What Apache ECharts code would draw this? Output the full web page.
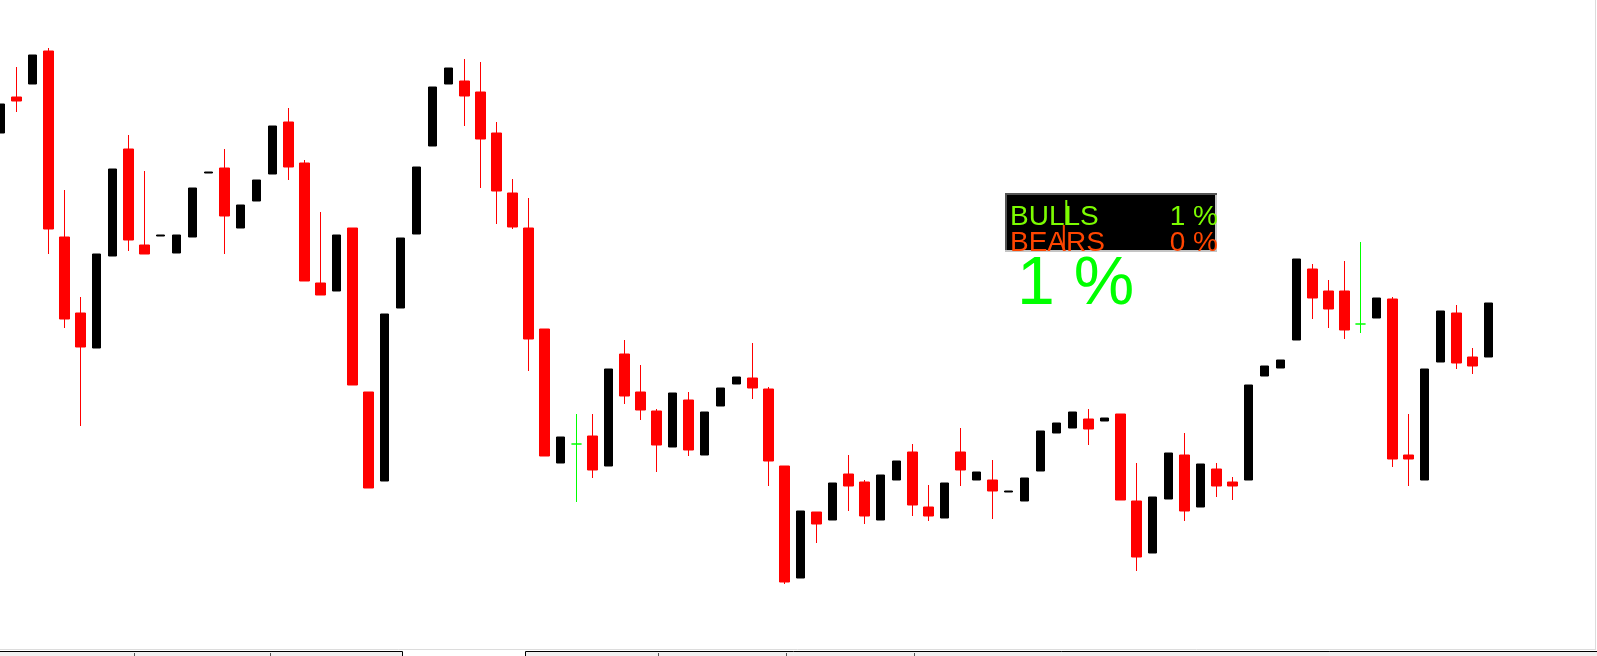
<!DOCTYPE html>
<html>
<head>
<meta charset="utf-8">
<script src="https://cdn.jsdelivr.net/npm/echarts@6/dist/echarts.min.js"></script>
<style>
html,body{margin:0;padding:0;background:#fff;}
#chart{width:1597px;height:656px;}
</style>
</head>
<body>
<div id="chart"></div>
<script>
// ---- data (prices) ----
const opens = [
1.1316,1.1352,1.1365,1.1398,1.1212,1.1136,1.1101,1.1193,1.1300,1.1204,
1.1213,1.1196,1.1212,1.1276,1.1281,1.1221,1.1248,1.1275,1.1327,1.1286,
1.1166,1.1158,1.1221,1.1057,1.0968,1.1141,1.1215,1.1303,1.1365,1.1368,
1.1357,1.1316,1.1256,1.1221,1.1120,1.0986,1.1005,1.1013,1.0983,1.1095,
1.1057,1.1038,1.1002,1.1049,1.0994,1.1043,1.1065,1.1071,1.1060,1.0983,
1.0871,1.0937,1.0929,1.0975,1.0967,1.0929,1.0969,1.0997,1.0942,1.0931,
1.0997,1.0969,1.0969,1.0957,1.0948,1.0978,1.1016,1.1021,1.1030,1.1028,
1.1035,1.0948,1.0896,1.0950,1.0994,1.0942,1.0980,1.0967,1.0969,1.1073,
1.1081,1.1109,1.1180,1.1158,1.1158,1.1125,1.1131,1.1150,1.0994,1.0969,
1.1087,1.1136,1.1092,1.1092
];
const closes = [
1.1345,1.1348,1.1394,1.1220,1.1130,1.1102,1.1195,1.1280,1.1209,1.1195,
1.1214,1.1214,1.1261,1.1277,1.1233,1.1244,1.1269,1.1323,1.1282,1.1168,
1.1154,1.1214,1.1064,1.0961,1.1135,1.1211,1.1282,1.1362,1.1381,1.1353,
1.1310,1.1258,1.1222,1.1110,1.0993,1.1012,1.1005,1.0979,1.1080,1.1053,
1.1039,1.1004,1.1056,1.0999,1.1037,1.1061,1.1072,1.1061,1.0988,1.0867,
1.0938,1.0925,1.0966,1.0963,1.0933,1.0974,1.0988,1.0944,1.0933,1.0966,
1.0979,1.0977,1.0958,1.0958,1.0971,1.1018,1.1026,1.1037,1.1020,1.1031,
1.0949,1.0892,1.0952,1.0996,1.0938,1.0985,1.0963,1.0963,1.1064,1.1083,
1.1089,1.1190,1.1151,1.1140,1.1119,1.1125,1.1151,1.0990,1.0990,1.1080,
1.1138,1.1086,1.1083,1.1146
];
const lows = [
1.1316,1.1337,1.1365,1.1195,1.1121,1.1023,1.1101,1.1193,1.1198,1.1195,
1.1213,1.1196,1.1212,1.1276,1.1195,1.1221,1.1248,1.1275,1.1269,1.1168,
1.1154,1.1158,1.1064,1.0961,1.0968,1.1141,1.1215,1.1303,1.1365,1.1323,
1.1261,1.1225,1.1220,1.1078,1.0993,1.0986,1.0947,1.0971,1.0983,1.1045,
1.1029,1.0977,1.1002,1.0993,1.0994,1.1043,1.1065,1.1050,1.0963,1.0865,
1.0871,1.0906,1.0929,1.0938,1.0925,1.0929,1.0969,1.0933,1.0928,1.0931,
1.0963,1.0969,1.0930,1.0957,1.0948,1.0978,1.1016,1.1021,1.1004,1.1028,
1.0949,1.0878,1.0896,1.0950,1.0928,1.0942,1.0952,1.0949,1.0969,1.1073,
1.1081,1.1109,1.1130,1.1121,1.1110,1.1116,1.1131,1.0982,1.0963,1.0969,
1.1087,1.1080,1.1075,1.1092
];
const highs = [
1.1345,1.1382,1.1394,1.1401,1.1259,1.1152,1.1195,1.1280,1.1314,1.1278,
1.1214,1.1214,1.1261,1.1277,1.1300,1.1244,1.1269,1.1323,1.1341,1.1289,
1.1237,1.1214,1.1221,1.1057,1.1135,1.1211,1.1282,1.1362,1.1381,1.1390,
1.1387,1.1327,1.1270,1.1251,1.1120,1.1012,1.1035,1.1035,1.1080,1.1109,
1.1084,1.1040,1.1056,1.1057,1.1037,1.1061,1.1072,1.1106,1.1062,1.0983,
1.0938,1.0937,1.0966,1.0994,1.0969,1.0974,1.0988,1.1005,1.0964,1.0966,
1.1021,1.0977,1.0989,1.0958,1.0971,1.1018,1.1026,1.1037,1.1040,1.1031,
1.1035,1.0986,1.0952,1.0996,1.1016,1.0985,1.0986,1.0972,1.1064,1.1083,
1.1089,1.1190,1.1185,1.1169,1.1188,1.1207,1.1151,1.1152,1.1035,1.1080,
1.1138,1.1144,1.1101,1.1146
];
const categories = opens.map((_, i) => 'Bar ' + (i + 1));
const panelLabels = ['BULLS', 'BEARS'];
const panelValues = ['1 %', '0 %'];
const bigValue = '1 %';

// ---- build series ----
const bullData = opens.map((o, i) => closes[i] > o ? [o, closes[i], lows[i], highs[i]] : '-');
const bearData = opens.map((o, i) => closes[i] > o ? '-' : [o, closes[i], lows[i], highs[i]]);

const chart = echarts.init(document.getElementById('chart'), null, {renderer: 'canvas'});
const FONT = '"Liberation Sans", Arial, sans-serif';

chart.setOption({
  animation: false,
  backgroundColor: '#ffffff',
  grid: {left: -7.5, top: 0, width: 16 * opens.length, height: 649, outerBoundsMode: 'none', containLabel: false},
  xAxis: {type: 'category', data: categories, boundaryGap: true, show: false},
  yAxis: {type: 'value', min: 1.0800, max: 1.1449, show: false, scale: true},
  series: [
    {
      type: 'candlestick', name: 'bull', data: bullData, barWidth: 8, clip: false,
      itemStyle: {color: '#000000', color0: '#000000', borderColor: '#000000', borderColor0: '#000000', borderWidth: 1}
    },
    {
      type: 'candlestick', name: 'bear', data: bearData, barWidth: 10, clip: false,
      itemStyle: {color: '#ff0000', color0: '#ff0000', borderColor: '#ff0000', borderColor0: '#ff0000', borderColorDoji: '#00ff00', borderWidth: 1}
    }
  ],
  graphic: [
    // window frame lines
    {type: 'line', shape: {x1: 0, y1: 649.5, x2: 1595, y2: 649.5}, style: {stroke: '#dcdcdc', lineWidth: 1}, silent: true},
    {type: 'line', shape: {x1: 1595.5, y1: 0, x2: 1595.5, y2: 650}, style: {stroke: '#dcdcdc', lineWidth: 1}, silent: true},
    // tab bar
    {type: 'rect', shape: {x: -1, y: 651.5, width: 403.5, height: 10}, style: {fill: '#f0f0f0', stroke: '#000000', lineWidth: 1}, silent: true},
    {type: 'rect', shape: {x: 525.5, y: 651.5, width: 1080, height: 10}, style: {fill: '#f0f0f0', stroke: '#000000', lineWidth: 1}, silent: true},
    {type: 'line', shape: {x1: 134.5, y1: 653, x2: 134.5, y2: 656}, style: {stroke: '#555', lineWidth: 1}, silent: true},
    {type: 'line', shape: {x1: 270.5, y1: 653, x2: 270.5, y2: 656}, style: {stroke: '#555', lineWidth: 1}, silent: true},
    {type: 'line', shape: {x1: 658.5, y1: 653, x2: 658.5, y2: 656}, style: {stroke: '#555', lineWidth: 1}, silent: true},
    {type: 'line', shape: {x1: 786.5, y1: 653, x2: 786.5, y2: 656}, style: {stroke: '#555', lineWidth: 1}, silent: true},
    {type: 'line', shape: {x1: 914.5, y1: 653, x2: 914.5, y2: 656}, style: {stroke: '#555', lineWidth: 1}, silent: true},
    // info panel
    {type: 'rect', shape: {x: 1005, y: 193, width: 212, height: 59}, style: {fill: '#000000'}, z: 10, silent: true},
    {type: 'line', shape: {x1: 1005, y1: 194, x2: 1217, y2: 194}, style: {stroke: '#555555', lineWidth: 2}, z: 11, silent: true},
    {type: 'line', shape: {x1: 1006, y1: 193, x2: 1006, y2: 252}, style: {stroke: '#555555', lineWidth: 2}, z: 11, silent: true},
    {type: 'line', shape: {x1: 1005, y1: 251, x2: 1217, y2: 251}, style: {stroke: '#c4c4c4', lineWidth: 2}, z: 11, silent: true},
    {type: 'line', shape: {x1: 1216, y1: 195, x2: 1216, y2: 252}, style: {stroke: '#c4c4c4', lineWidth: 2}, z: 11, silent: true},
    {type: 'line', shape: {x1: 1066.3, y1: 200, x2: 1066.3, y2: 225}, style: {stroke: '#7cfc00', lineWidth: 2}, z: 13, silent: true},
    {type: 'line', shape: {x1: 1063.8, y1: 225, x2: 1063.8, y2: 251}, style: {stroke: '#ff4500', lineWidth: 2}, z: 13, silent: true},
    {type: 'text', x: 1010, y: 217, z: 12, silent: true,
      style: {text: panelLabels[0], fill: '#7cfc00', fontSize: 28, fontFamily: FONT, align: 'left', verticalAlign: 'middle'}},
    {type: 'text', x: 1010, y: 243, z: 12, silent: true,
      style: {text: panelLabels[1], fill: '#ff4500', fontSize: 28, fontFamily: FONT, align: 'left', verticalAlign: 'middle'}},
    {type: 'text', x: 1218, y: 217, z: 12, silent: true,
      style: {text: panelValues[0], fill: '#7cfc00', fontSize: 28, fontFamily: FONT, align: 'right', verticalAlign: 'middle'}},
    {type: 'text', x: 1218, y: 243, z: 12, silent: true,
      style: {text: panelValues[1], fill: '#ff4500', fontSize: 28, fontFamily: FONT, align: 'right', verticalAlign: 'middle'}},
    {type: 'text', x: 1017, y: 285, z: 12, silent: true,
      style: {text: bigValue, fill: '#00ff00', fontSize: 68, fontFamily: FONT, align: 'left', verticalAlign: 'middle'}}
  ]
});
</script>
</body>
</html>
